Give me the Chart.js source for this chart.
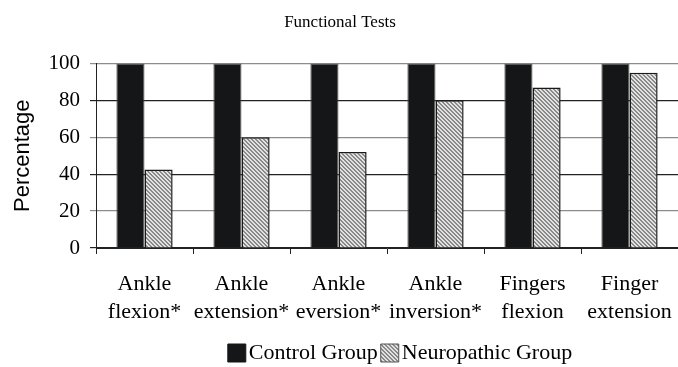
<!DOCTYPE html>
<html>
<head>
<meta charset="utf-8">
<script src="https://cdn.jsdelivr.net/npm/chart.js@4/dist/chart.umd.min.js"></script>
<style>
  html, body { margin: 0; padding: 0; background: #fff; }
  #wrap { width: 678px; height: 367px; }
</style>
</head>
<body>
<div id="wrap"><canvas id="testsChart"></canvas></div>
<script>
// data
var categories = [
  ['Ankle', 'flexion*'],
  ['Ankle', 'extension*'],
  ['Ankle', 'eversion*'],
  ['Ankle', 'inversion*'],
  ['Fingers', 'flexion'],
  ['Finger', 'extension']
];
var controlValues = [100, 100, 100, 100, 100, 100];
var neuropathicValues = [42.5, 60, 52, 80, 87, 95];
var yTicks = [0, 20, 40, 60, 80, 100];

// hatched fill for the neuropathic bars
function hatch() {
  var c = document.createElement('canvas');
  c.width = 4; c.height = 4;
  var g = c.getContext('2d');
  g.fillStyle = '#e2e2e2';
  g.fillRect(0, 0, 4, 4);
  g.fillStyle = '#8a8a8a';
  for (var i = 0; i < 4; i++) {
    g.fillRect(i, i, 1, 1);
    g.fillRect((i + 1) % 4, i, 1, 1);
  }
  return g.createPattern(c, 'repeat');
}
var hatchFill = hatch();

var serif = "'Liberation Serif', 'Times New Roman', serif";

// legend sits a bit right of the plot centre in the original
var legendShift = {
  id: 'legendShift',
  afterLayout: function (chart) {
    chart.legend.left += 17;
    chart.legend.right += 17;
  }
};

var ctx = document.getElementById('testsChart').getContext('2d');
var testsChart = new Chart(ctx, {
  type: 'bar',
  data: {
    labels: categories,
    datasets: [{
      label: 'Control Group',
      data: controlValues,
      backgroundColor: '#151617',
      borderColor: '#555',
      borderWidth: 1,
      barPercentage: 1,
      categoryPercentage: 0.58
    }, {
      label: 'Neuropathic Group',
      data: neuropathicValues,
      backgroundColor: hatchFill,
      borderColor: '#1a1a1a',
      borderWidth: 1.5,
      barPercentage: 1,
      categoryPercentage: 0.58
    }]
  },
  plugins: [legendShift],
  options: {
    responsive: true,
    maintainAspectRatio: false,
    animation: false,
    layout: {
      padding: { left: 0, right: -2, top: 0, bottom: -7 }
    },
    plugins: {
      title: {
        display: true,
        text: 'Functional Tests',
        color: '#000',
        font: { family: serif, size: 17, weight: 'normal' },
        padding: { top: 12, bottom: 31 }
      },
      legend: {
        position: 'bottom',
        fullSize: false,
        labels: {
          color: '#000',
          font: { family: serif, size: 22 },
          usePointStyle: true,
          pointStyle: 'rect',
          boxWidth: 2,
          boxHeight: 18,
          padding: 11,
          generateLabels: function (chart) {
            return chart.data.datasets.map(function (ds, i) {
              return {
                text: ds.label,
                fillStyle: ds.backgroundColor,
                strokeStyle: i === 0 ? '#151617' : '#555',
                lineWidth: 1,
                pointStyle: 'rect',
                fontColor: '#000',
                datasetIndex: i
              };
            });
          }
        }
      },
      tooltip: {
        enabled: false
      }
    },
    scales: {
      x: {
        grid: {
          offset: true,
          drawOnChartArea: false,
          tickLength: 6,
          color: '#222'
        },
        border: { color: '#222', width: 1 },
        ticks: {
          color: '#000',
          font: { family: serif, size: 22, lineHeight: 1.24 },
          padding: 17,
          maxRotation: 0,
          autoSkip: false
        },
        afterFit: function (scale) {
          scale.height = 83;
          scale.paddingLeft = 0;
          scale.paddingRight = 0;
        }
      },
      y: {
        min: 0,
        max: 100,
        afterBuildTicks: function (scale) {
          scale.ticks = yTicks.map(function (v) { return { value: v }; });
        },
        grid: {
          tickLength: 6,
          color: function (c) {
            return (c.tick && (c.tick.value === 20 || c.tick.value === 60 || c.tick.value === 100)) ? '#8c8c8c' : '#222';
          },
          lineWidth: 1.2
        },
        border: { color: '#222', width: 1 },
        ticks: {
          color: '#000',
          font: { family: serif, size: 21 },
          padding: 10
        },
        title: {
          display: true,
          text: 'Percentage',
          color: '#000',
          font: { family: "'Liberation Sans', Arial, sans-serif", size: 22 },
          padding: { top: 10, bottom: 0 }
        },
        afterFit: function (scale) { scale.width = 96; }
      }
    }
  }
});
</script>
</body>
</html>
